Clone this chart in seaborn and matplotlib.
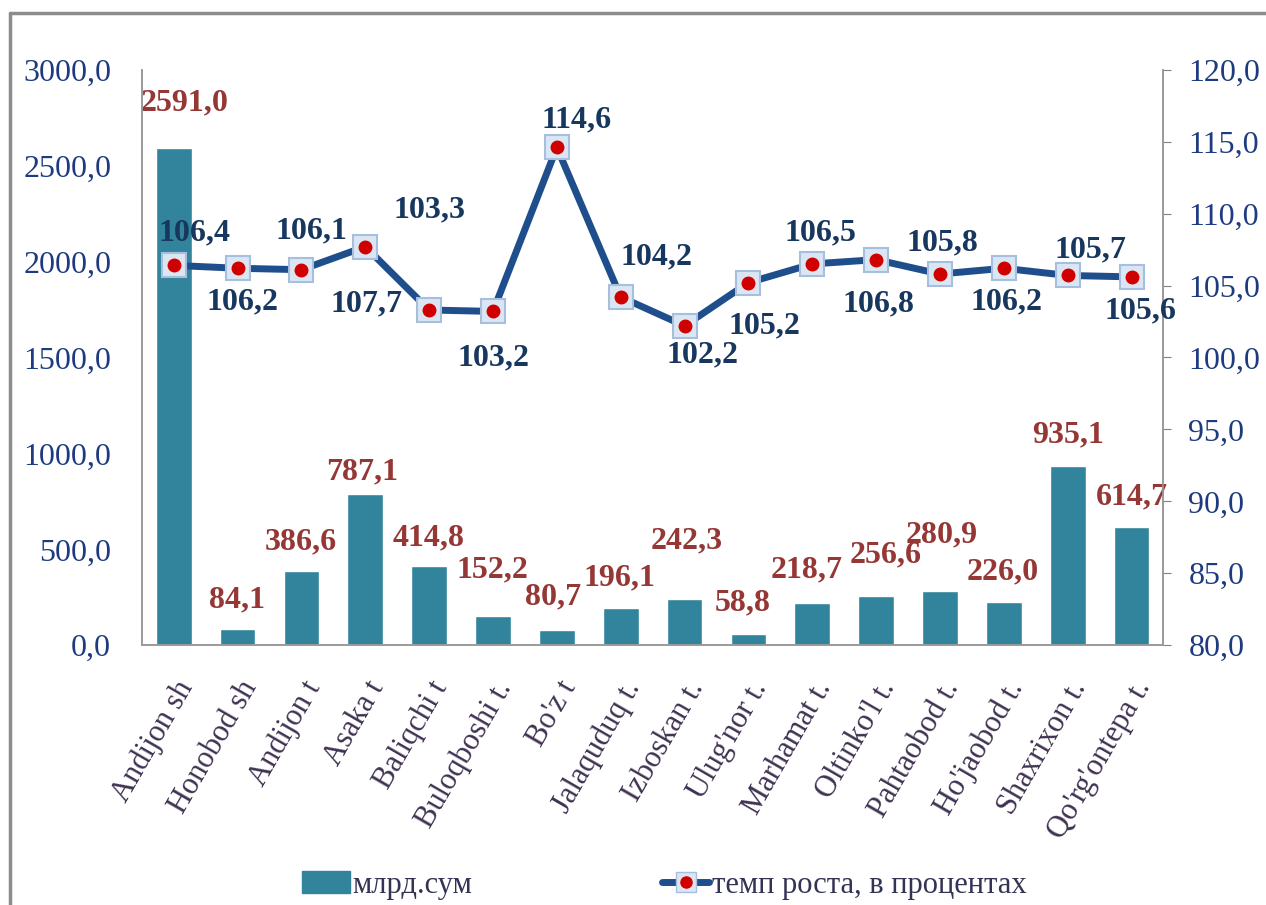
import matplotlib
matplotlib.use("Agg")
import matplotlib.pyplot as plt
import seaborn as sns
import numpy as np
from matplotlib.lines import Line2D
from matplotlib.patches import Patch
from matplotlib.legend_handler import HandlerTuple

# data
districts = ["Andijon sh", "Honobod sh", "Andijon t", "Asaka t", "Baliqchi t", "Buloqboshi t.",
             "Bo'z t", "Jalaquduq t.", "Izboskan t.", "Ulug'nor t.", "Marhamat t.", "Oltinko'l t.",
             "Pahtaobod t.", "Ho'jaobod t.", "Shaxrixon t.", "Qo'rg'ontepa t."]
volume = [2591.0, 84.1, 386.6, 787.1, 414.8, 152.2, 80.7, 196.1, 242.3, 58.8,
          218.7, 256.6, 280.9, 226.0, 935.1, 614.7]
growth = [106.4, 106.2, 106.1, 107.7, 103.3, 103.2, 114.6, 104.2, 102.2, 105.2,
          106.5, 106.8, 105.8, 106.2, 105.7, 105.6]

# label offsets in pixels (dx, dy), dy positive = up
bar_lbl_dy = [45, 29, 29, 22, 28, 46, 33, 30, 58, 31, 33, 41, 56, 30, 31, 30]
bar_lbl_dx = [11, -1, -1, -3, -1, -1, -4, -1, 2, -6, -6, 10, 2, -1, 0, 0]
line_lbl_off = [(21, 32), (5, -34), (10, 39), (1, -57), (0, 100), (1, -46), (20, 27), (36, 40),
                (18, -29), (16, -43), (8, 31), (2, -44), (2, 31), (3, -34), (23, 26), (9, -34)]

bar_color = "#31849B"
line_color = "#1F4E8C"
red_lbl = "#953735"
navy_lbl = "#17375E"
tick_col = "#1F3B80"

sns.set_style("white")
plt.rcParams["font.family"] = ["Liberation Serif", "DejaVu Serif"]

fig = plt.figure(figsize=(12.66, 9.05), dpi=100)
ax = fig.add_axes([0.112, 0.287, 0.807, 0.636])
ax2 = ax.twinx()

x = np.arange(len(districts))
sns.barplot(x=x, y=volume, color=bar_color, saturation=1, width=0.56, ax=ax)
ax.set_ylim(0, 3000)
ax.set_xlim(-0.5, len(districts) - 0.5)
ax.set_yticks(np.arange(0, 3001, 500))
ax.set_yticklabels([f"{v:.1f}".replace(".", ",") for v in np.arange(0, 3001, 500)],
                   fontsize=23, color=tick_col)
ax.set_xticks(x)
ax.set_xticklabels(districts, rotation=60, ha="right", rotation_mode="anchor",
                   fontsize=22, color="#3F3151")
ax.tick_params(axis="x", length=0, pad=22)
ax.tick_params(axis="y", length=0, pad=22)

# growth line
sns.lineplot(x=x, y=growth, color=line_color, linewidth=5, ax=ax2, zorder=3)
ax2.plot(x, growth, linestyle="none", marker="s", markersize=17,
         markerfacecolor="#DCE6F2", markeredgecolor="#A7BFDE", markeredgewidth=1.5, zorder=4)
ax2.plot(x, growth, linestyle="none", marker="o", markersize=9,
         markerfacecolor="#D00000", markeredgecolor="#D00000", zorder=5)
ax2.set_ylim(80, 120)
ax2.set_yticks(np.arange(80, 121, 5))
ax2.set_yticklabels([f"{v:.1f}".replace(".", ",") for v in np.arange(80, 121, 5)],
                    fontsize=23, color=tick_col)
ax2.tick_params(axis="y", direction="out", length=6, color="#808080", pad=12, right=True)

for a in (ax, ax2):
    a.spines["top"].set_visible(False)
    for s in ["left", "right", "bottom"]:
        a.spines[s].set_color("#9A9A9A")
        a.spines[s].set_linewidth(1.2)

px = 0.72  # points per pixel
for i, v in enumerate(volume):
    ax.annotate(f"{v:.1f}".replace(".", ","), (i, v),
                xytext=(bar_lbl_dx[i] * px, bar_lbl_dy[i] * px), textcoords="offset points",
                ha="center", va="center", fontsize=23, fontweight="bold", color=red_lbl)
for i, v in enumerate(growth):
    dx, dy = line_lbl_off[i]
    ax2.annotate(f"{v:.1f}".replace(".", ","), (i, v),
                 xytext=(dx * px, dy * px), textcoords="offset points",
                 ha="center", va="center", fontsize=23, fontweight="bold", color=navy_lbl,
                 zorder=6)

line_handle = (Line2D([0], [0], color=line_color, linewidth=5),
               Line2D([0], [0], linestyle="none", marker="s", markersize=15,
                      markerfacecolor="#DCE6F2", markeredgecolor="#A7BFDE"),
               Line2D([0], [0], linestyle="none", marker="o", markersize=8,
                      markerfacecolor="#D00000", markeredgecolor="#D00000"))
handles = [Patch(facecolor=bar_color, edgecolor=bar_color), line_handle]
fig.legend(handles, ["млрд.сум", "темп роста, в процентах"], loc="center",
           bbox_to_anchor=(0.525, 0.022), ncol=2, frameon=False, fontsize=22,
           columnspacing=6.2, handlelength=1.55, handleheight=0.75, handletextpad=0.1,
           labelcolor="#333355", handler_map={tuple: HandlerTuple(ndivide=1)})

# outer frame (top and left edges visible)
fig.add_artist(Line2D([0.008, 1.0], [0.986, 0.986], color="#8C8C8C", linewidth=2.5,
                      transform=fig.transFigure))
fig.add_artist(Line2D([0.008, 0.008], [0.0, 0.986], color="#8C8C8C", linewidth=2.5,
                      transform=fig.transFigure))

plt.savefig("out.png", dpi=100)
